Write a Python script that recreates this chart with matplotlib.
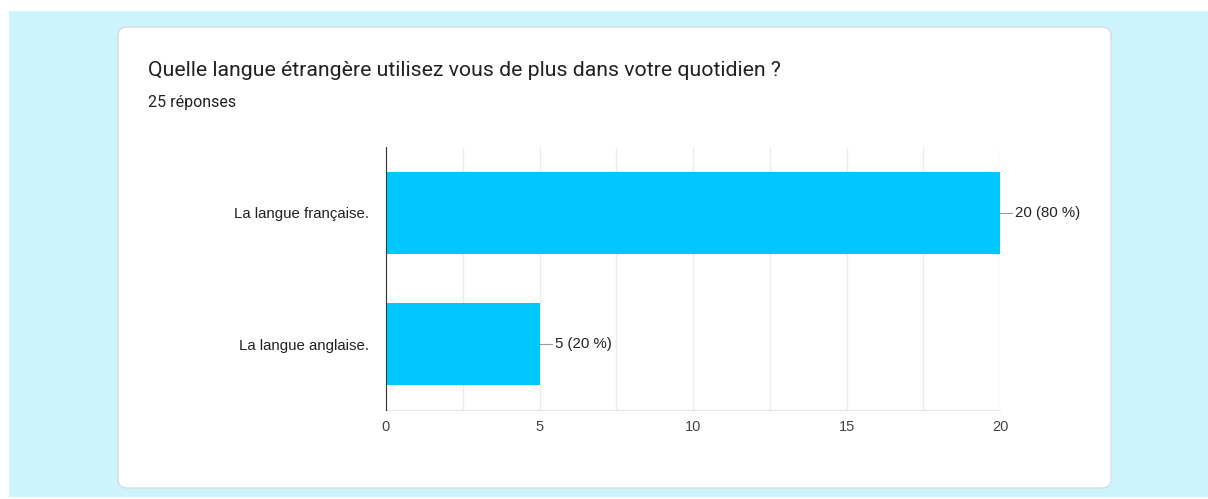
import matplotlib.pyplot as plt
from matplotlib.patches import FancyBboxPatch, Rectangle

# data
categories = ['La langue française.', 'La langue anglaise.']
counts = [20, 5]
total = 25
title = 'Quelle langue étrangère utilisez vous de plus dans votre quotidien ?'
subtitle = '25 réponses'

W, H = 1208, 499
fig = plt.figure(figsize=(W / 100, H / 100), dpi=100)
fig.patch.set_facecolor('white')

def fx(px):
    return px / W

def fy(py):
    return 1 - py / H

# light blue page background
fig.patches.append(Rectangle((fx(9), fy(497)), fx(1208 - 9), (497 - 11) / H,
                             transform=fig.transFigure, facecolor='#cdf3fd',
                             edgecolor='none', zorder=0))
# white card
fig.patches.append(FancyBboxPatch((fx(118), fy(488)), fx(1111 - 118), (488 - 27) / H,
                                  boxstyle='round,pad=0,rounding_size=0.0075',
                                  transform=fig.transFigure, facecolor='white',
                                  edgecolor='#dadce0', linewidth=1.0, zorder=1,
                                  mutation_aspect=W / H))

fig.text(fx(148), fy(70), title, fontsize=15.3, family='Roboto', color='#202124',
         va='center', ha='left')
fig.text(fx(148), fy(103), subtitle, fontsize=11.5, family='Roboto', color='#202124',
         va='center', ha='left')

ax = fig.add_axes([fx(386), fy(410), fx(1000 - 386), (410 - 147) / H])
ax.set_facecolor('white')
ax.set_zorder(2)

y = list(range(len(categories)))
ax.barh(y, counts, height=0.62, color='#00c8ff', zorder=3)
ax.set_ylim(len(categories) - 0.5, -0.5)
ax.set_xlim(0, 20)
ax.set_xticks([0, 5, 10, 15, 20])
ax.set_xticks([2.5, 7.5, 12.5, 17.5], minor=True)
ax.grid(axis='x', which='both', color='#ebebeb', linewidth=1, zorder=0)
ax.set_yticks(y)
ax.set_yticklabels(categories, family='Liberation Sans', fontsize=10.8, color='#222222')
for lab in ax.get_xticklabels():
    lab.set_family('Liberation Sans')
ax.tick_params(axis='x', which='both', length=0, pad=7.5, labelsize=10.5, labelcolor='#444444')
ax.tick_params(axis='y', length=0, pad=12)
for s in ['top', 'right']:
    ax.spines[s].set_visible(False)
ax.spines['bottom'].set_color('#e6e6e6')
ax.spines['left'].set_color('#333333')
ax.spines['left'].set_zorder(4)

for yi, c in zip(y, counts):
    pct = round(c / total * 100)
    ax.plot([c, c + 0.4], [yi, yi], color='#999999', linewidth=0.8, clip_on=False, zorder=4)
    ax.text(c + 0.5, yi, f'{c} ({pct} %)', va='center', ha='left', fontsize=10.8,
            family='Liberation Sans', color='#222222', clip_on=False)

fig.savefig('out.png', dpi=100, facecolor=fig.get_facecolor())
